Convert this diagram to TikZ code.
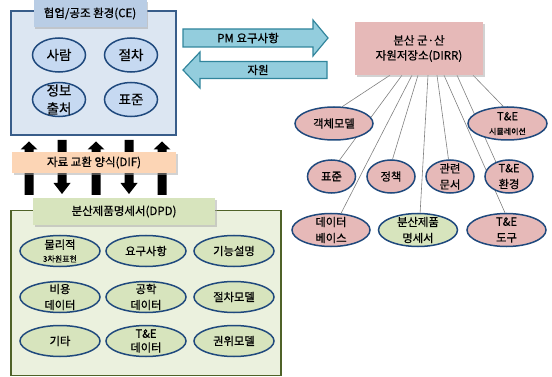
\documentclass[tikz,border=0pt]{standalone}
\usepackage{fontspec}
\setmainfont{Noto Sans CJK KR}[FakeBold=0.7]
\usetikzlibrary{shapes.geometric,shadows,backgrounds}
\definecolor{celine}{HTML}{385D8A}
\definecolor{cefill}{HTML}{DCE6F2}
\definecolor{cetitle}{HTML}{B9CDE5}
\definecolor{ceov}{HTML}{C6D9F1}
\definecolor{ovline}{HTML}{1F497D}
\definecolor{diffill}{HTML}{FCD5B5}
\definecolor{dpdline}{HTML}{4F6228}
\definecolor{dpdfill}{HTML}{EBF1DE}
\definecolor{dpdtitle}{HTML}{D7E4BD}
\definecolor{arrfill}{HTML}{93CDDD}
\definecolor{arrline}{HTML}{31859C}
\definecolor{pinkf}{HTML}{E6B9B8}
\definecolor{conn}{HTML}{808080}
\begin{document}
\begin{tikzpicture}[x=1pt,y=-1pt, every node/.style={inner sep=0pt}]
\tikzset{
  shd/.style={drop shadow={shadow xshift=1.8pt,shadow yshift=-1.8pt,fill=black!35}},
  ov/.style={ellipse, draw=ovline, line width=1.5pt, inner sep=0pt},
  ovce/.style={ov, fill=ceov, minimum width=53pt, minimum height=34pt},
  ovdpd/.style={ov, fill=dpdtitle, minimum width=80pt, minimum height=31pt},
  ovpk/.style={ov, fill=pinkf, minimum height=33pt},
  tce/.style={font=\fontsize{13.5}{18}\selectfont, align=center},
  tsm/.style={font=\fontsize{11.3}{16}\selectfont, align=center},
  ttl/.style={font=\fontsize{11.5}{15}\selectfont, align=center},
  blk/.style={fill=black},
  blu/.style={fill=arrfill, draw=arrline, line width=1.2pt},
  cn/.style={draw=conn, line width=0.6pt}
}
\useasboundingbox (0,0) rectangle (552,377);

% ---------- CE ----------
\node[draw=celine, fill=cefill, line width=1.4pt, minimum width=165pt, minimum height=124pt] (ce) at (93.5,73) {};
\node[fill=cetitle, shd, minimum width=113pt, minimum height=27pt, ttl] (cet) at (90,13.5) {협업/공조 환경(CE)};
\node[ovce, label={[tce]center:사람}] (sa) at (59,55) {};
\node[ovce, label={[tce]center:절차}] (jc) at (131,55) {};
\node[ovce, label={[tce]center:{정보\\출처}}] (jb) at (59,99.5) {};
\node[ovce, label={[tce]center:표준}] (pj) at (131,99.5) {};

% ---------- black arrows ----------
\foreach \c in {29,96,162}{
  \fill[blk] (\c-4.5,195) -- (\c-4.5,149.5) -- (\c-8.5,149.5) -- (\c,141.5) -- (\c+8.5,149.5) -- (\c+4.5,149.5) -- (\c+4.5,195) -- cycle;
}
\foreach \c in {62,129}{
  \fill[blk] (\c-4.5,140) -- (\c+4.5,140) -- (\c+4.5,183) -- (\c+8.5,183) -- (\c,194) -- (\c-8.5,183) -- (\c-4.5,183) -- cycle;
}
\node[fill=diffill, shd, minimum width=164pt, minimum height=21pt, ttl] (dif) at (94,162.5) {자료 교환 양식(DIF)};

% ---------- DPD ----------
\node[draw=dpdline, fill=dpdfill, line width=1.4pt, minimum width=270pt, minimum height=165pt] (dpd) at (146,292.75) {};
\node[fill=dpdtitle, shd, minimum width=182pt, minimum height=27pt, ttl] (dpdt) at (124,211.5) {분산제품명세서(DPD)};
\node[ovdpd, label={[tsm]center:{물리적\\[-3pt]{\fontsize{8}{9}\selectfont 3차원표현}}}] (d1) at (60,251) {};
\node[ovdpd, label={[tsm]center:요구사항}] (d2) at (146,251) {};
\node[ovdpd, label={[tsm]center:기능설명}] (d3) at (234,251) {};
\node[ovdpd, label={[tsm]center:{비용\\데이터}}] (d4) at (60,297) {};
\node[ovdpd, label={[tsm]center:{공학\\데이터}}] (d5) at (146,297) {};
\node[ovdpd, label={[tsm]center:절차모델}] (d6) at (234,297) {};
\node[ovdpd, label={[tsm]center:기타}] (d7) at (60,341) {};
\node[ovdpd, label={[tsm]center:{T\&E\\[-2pt]데이터}}] (d8) at (146,341) {};
\node[ovdpd, label={[tsm]center:권위모델}] (d9) at (234,341) {};

% ---------- blue arrows ----------
\draw[blu] (183,29) -- (313,29) -- (313,20) -- (328,38) -- (313,56) -- (313,47) -- (183,47) -- cycle;
\node[ttl] (pm) at (248,38) {PM 요구사항};
\draw[blu] (183,70) -- (200,52) -- (200,61.5) -- (327,61.5) -- (327,78.5) -- (200,78.5) -- (200,88) -- cycle;
\node[ttl] (jw) at (258,70) {자원};

% ---------- DIRR ----------
\node[fill=pinkf, shd, minimum width=128pt, minimum height=53pt, font=\fontsize{11.5}{15}\selectfont, align=center] (dirr) at (419,48.5) {분산 군·산\\자원저장소(DIRR)};
\node[ovpk, minimum width=78pt, label={[tsm]center:객체모델}] (obj) at (334,123.5) {};
\node[ovpk, minimum width=79pt, label={[tsm]center:{T\&E\\[-2pt]{\fontsize{8}{9}\selectfont 시뮬레이션}}}] (sim) at (507.5,123.5) {};
\node[ovpk, minimum width=48pt, label={[tsm]center:표준}] (std) at (331.5,176.5) {};
\node[ovpk, minimum width=48pt, label={[tsm]center:정책}] (pol) at (391,176.5) {};
\node[ovpk, minimum width=48pt, label={[tsm]center:{관련\\문서}}] (doc) at (450,176.5) {};
\node[ovpk, minimum width=48pt, label={[tsm]center:{T\&E\\환경}}] (env) at (509,176.5) {};
\node[ovpk, minimum width=78pt, label={[tsm]center:{데이터\\베이스}}] (db) at (331,230) {};
\node[ov, fill=dpdtitle, minimum height=33pt, minimum width=79pt, label={[tsm]center:{분산제품\\명세서}}] (spec) at (418,230) {};
\node[ovpk, minimum width=79pt, label={[tsm]center:{T\&E\\도구}}] (tool) at (506.5,230) {};

\begin{pgfonlayer}{background}
\draw[cn] ([xshift=-29pt]dirr.south) -- (obj.64);
\draw[cn] ([xshift=-17pt]dirr.south) -- (std.64);
\draw[cn] ([xshift=-7pt]dirr.south) -- (db.59);
\draw[cn] ([xshift=-1pt]dirr.south) -- (pol.85);
\draw[cn] ([xshift=9pt]dirr.south) -- (spec.83);
\draw[cn] ([xshift=18pt]dirr.south) -- (doc.95);
\draw[cn] ([xshift=25pt]dirr.south) -- (tool.95);
\draw[cn] ([xshift=38pt]dirr.south) -- (env.132);
\draw[cn] ([xshift=54pt]dirr.south) -- (sim.104);
\end{pgfonlayer}
\end{tikzpicture}
\end{document}
